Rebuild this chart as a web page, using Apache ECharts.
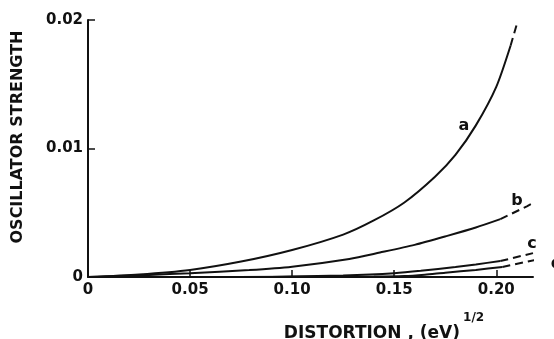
<!DOCTYPE html>
<html><head><meta charset="utf-8">
<script src="https://cdn.jsdelivr.net/npm/echarts@6/dist/echarts.min.js"></script>
<style>html,body{margin:0;padding:0;background:#fff}#c{width:554px;height:339px}</style>
</head><body><div id="c"></div>
<script>
// ---- data ----
const xTickValues = [0, 0.05, 0.10, 0.15, 0.20];
const xTickLabels = ['0', '0.05', '0.10', '0.15', '0.20'];
const yTickValues = [0, 0.01, 0.02];
const yTickLabels = ['0', '0.01', '0.02'];
const xTitle = 'DISTORTION , (eV)';
const xTitleSup = '1/2';
const yTitle = 'OSCILLATOR STRENGTH';
const curveNames = ['a', 'b', 'c', 'd'];

const aSolid = [[0,0],[0.025,0.0002],[0.05,0.00055],[0.075,0.0012],[0.10,0.0021],[0.125,0.0033],[0.14,0.0044],[0.155,0.0058],[0.17,0.0078],[0.18,0.0095],[0.19,0.0118],[0.20,0.0148],[0.207,0.0180]];
const aDashed = [[0.207,0.0180],[0.2105,0.0199]];
const bSolid = [[0,0],[0.03,0.00016],[0.05,0.0003],[0.079,0.00054],[0.10,0.0008],[0.128,0.0014],[0.143,0.0019],[0.16,0.0025],[0.176,0.0032],[0.19,0.00385],[0.202,0.0045]];
const bDashed = [[0.202,0.0045],[0.215,0.0055],[0.2255,0.0064]];
const cSolid = [[0.09,0],[0.10,0.00003],[0.125,0.00012],[0.15,0.0003],[0.163,0.00048],[0.18,0.00078],[0.19,0.00098],[0.202,0.00124]];
const cDashed = [[0.202,0.00124],[0.218,0.00186]];
const dSolid = [[0.043,0],[0.10,0.00001],[0.14,0.00003],[0.155,0.00007],[0.165,0.00018],[0.175,0.00034],[0.19,0.00055],[0.203,0.00078]];
const dDashed = [[0.203,0.00078],[0.227,0.0016]];

const INK = '#111';
const FONT = 'DejaVu Sans';

function mk(data, dashed, labelIdx, labelText, labelOpt) {
  return {
    type: 'line',
    data: data.map((p, i) => i === labelIdx ? {
      value: p,
      label: Object.assign({ show: true, formatter: labelText, color: INK, fontFamily: FONT, fontWeight: 'bold', fontSize: 16 }, labelOpt)
    } : p),
    smooth: dashed ? false : 0.25,
    clip: false,
    symbol: 'circle',
    symbolSize: 1,
    showSymbol: true,
    showAllSymbol: true,
    itemStyle: { color: 'rgba(0,0,0,0)' },
    lineStyle: { color: INK, width: 2, type: dashed ? [8, 5] : 'solid' },
    label: { show: false },
    emphasis: { disabled: true },
    silent: true,
    animation: false
  };
}

const chart = echarts.init(document.getElementById('c'), null, { renderer: 'canvas' });
chart.setOption({
  backgroundColor: '#fff',
  animation: false,
  grid: { left: 88, right: 21, top: 20, bottom: 62 },
  xAxis: {
    type: 'value', min: 0, max: 0.218,
    axisLine: { show: true, onZero: false, lineStyle: { color: INK, width: 2 } },
    axisTick: { show: true, inside: true, length: 7, lineStyle: { color: INK, width: 1.5 }, customValues: xTickValues.slice(1) },
    axisLabel: {
      customValues: xTickValues,
      formatter: v => { const i = xTickValues.findIndex(t => Math.abs(t - v) < 1e-9); return i >= 0 ? xTickLabels[i] : ''; },
      color: INK, fontFamily: FONT, fontWeight: 'bold', fontSize: 15, margin: 6
    },
    splitLine: { show: false }
  },
  yAxis: {
    type: 'value', min: 0, max: 0.02,
    axisLine: { show: true, lineStyle: { color: INK, width: 2 } },
    axisTick: { show: true, inside: true, length: 7, lineStyle: { color: INK, width: 1.5 }, customValues: yTickValues.slice(1) },
    axisLabel: {
      customValues: yTickValues,
      formatter: v => { const i = yTickValues.findIndex(t => Math.abs(t - v) < 1e-9); return i >= 0 ? yTickLabels[i] : ''; },
      color: INK, fontFamily: FONT, fontWeight: 'bold', fontSize: 15, margin: 5
    },
    splitLine: { show: false }
  },
  graphic: [
    { type: 'text', x: 18, y: 137, rotation: Math.PI / 2, silent: true,
      style: { text: yTitle, fill: INK, font: 'bold 16px "DejaVu Sans"', align: 'center', verticalAlign: 'middle' } },
    { type: 'text', x: 384, y: 327, silent: true,
      style: {
        text: '{m|' + xTitle + '}{s|' + xTitleSup + '}', align: 'center', verticalAlign: 'middle',
        rich: {
          m: { fontFamily: FONT, fontWeight: 'bold', fontSize: 17, fill: INK, color: INK, lineHeight: 30, verticalAlign: 'bottom' },
          s: { fontFamily: FONT, fontWeight: 'bold', fontSize: 12, fill: INK, color: INK, lineHeight: 14, verticalAlign: 'top', padding: [0, 0, 0, 3] }
        }
      } }
  ],
  series: [
    mk(aSolid, false, 10, curveNames[0], { position: 'left', distance: 6, offset: [0, 0] }),
    mk(aDashed, true, -1, '', {}),
    mk(bSolid, false, -1, '', {}),
    mk(bDashed, true, 1, curveNames[1], { position: 'top', distance: 0, offset: [-10, 3] }),
    mk(cSolid, false, -1, '', {}),
    mk(cDashed, true, 1, curveNames[2], { position: 'top', distance: 1, offset: [-1, 0] }),
    mk(dSolid, false, -1, '', {}),
    mk(dDashed, true, 1, curveNames[3], { position: 'bottom', distance: 0, offset: [5, -1] })
  ]
});
</script></body></html>
